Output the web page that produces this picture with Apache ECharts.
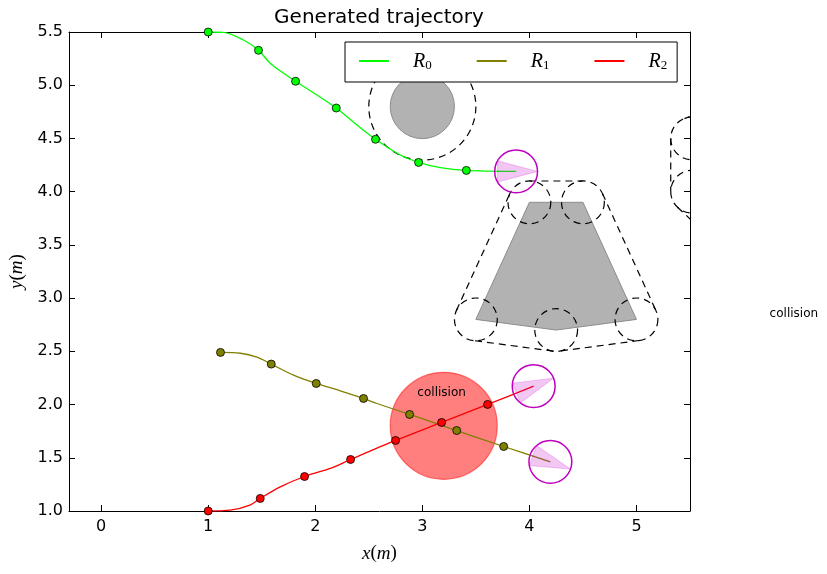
<!DOCTYPE html>
<html>
<head>
<meta charset="utf-8">
<script src="https://cdn.jsdelivr.net/npm/echarts@6/dist/echarts.min.js"></script>
<style>
html, body { margin: 0; padding: 0; background: #fff; }
#main { width: 827px; height: 574px; }
</style>
</head>
<body>
<div id="main"></div>
<script>
// trajectories (dense path) and the sampled points on them
const r0LineX = [1.0, 1.143, 1.33, 1.47, 1.579, 1.704, 1.816, 2.016, 2.196, 2.39, 2.563, 2.794, 2.965, 3.168, 3.411, 3.876]
const r0LineY = [5.5, 5.497, 5.425, 5.328, 5.206, 5.112, 5.037, 4.908, 4.786, 4.626, 4.492, 4.344, 4.275, 4.225, 4.20, 4.19]
const r0MarkX = [1.0, 1.47, 1.816, 2.196, 2.563, 2.965, 3.411]
const r0MarkY = [5.5, 5.328, 5.037, 4.786, 4.492, 4.275, 4.20]

const r1LineX = [1.115, 1.30, 1.455, 1.589, 1.797, 2.009, 2.234, 2.451, 2.577, 2.881, 3.321, 3.76, 4.196]
const r1LineY = [2.49, 2.482, 2.445, 2.38, 2.276, 2.198, 2.129, 2.057, 2.01, 1.907, 1.756, 1.606, 1.462]
const r1MarkX = [1.115, 1.589, 2.009, 2.451, 2.881, 3.321, 3.76]
const r1MarkY = [2.49, 2.38, 2.198, 2.057, 1.907, 1.756, 1.606]

const r2LineX = [1.0, 1.206, 1.39, 1.486, 1.673, 1.90, 2.14, 2.33, 2.75, 3.18, 3.61, 4.04]
const r2LineY = [1.0, 1.008, 1.055, 1.118, 1.227, 1.324, 1.40, 1.484, 1.663, 1.832, 2.001, 2.173]
const r2MarkX = [1.0, 1.486, 1.90, 2.33, 2.75, 3.18, 3.61]
const r2MarkY = [1.0, 1.118, 1.324, 1.484, 1.663, 1.832, 2.001]

// robots at the end of each path: position, heading (deg)
const robotX = [3.876, 4.196, 4.04]
const robotY = [4.19, 1.462, 2.173]
const robotHeading = [0, -20, 22]
const robotRadius = 0.2

// obstacles
const inflate = 0.2
const circObsX = [3.0]
const circObsY = [4.8]
const circObsR = [0.3]
const polyObsX = [[4.0, 4.5, 5.0, 4.25, 3.5], [5.52, 5.52, 6.0, 6.3]]
const polyObsY = [[3.9, 3.9, 2.8, 2.7, 2.8], [4.5, 4.0, 3.55, 4.8]]

// collision zone and labels
const collX = [3.2]
const collY = [1.8]
const collR = [0.5]
const collTextX = [3.18, 6.47]
const collTextY = [2.11, 2.85]

const names = ['R0', 'R1', 'R2']
const colors = ['#00ff00', '#808000', '#ff0000']
const lineXs = [r0LineX, r1LineX, r2LineX]
const lineYs = [r0LineY, r1LineY, r2LineY]
const markXs = [r0MarkX, r1MarkX, r2MarkX]
const markYs = [r0MarkY, r1MarkY, r2MarkY]

const dash = { stroke: '#000', fill: 'none', lineWidth: 1.2, lineDash: [7, 5] }

const renderPolyObstacle = (params, api) => {
  const px = polyObsX[params.dataIndex]
  const py = polyObsY[params.dataIndex]
  const n = px.length
  const pts = px.map((x, i) => api.coord([x, py[i]]))
  const rPx = api.size([inflate, 0])[0]
  const cx = px.reduce((a, b) => a + b, 0) / n
  const cy = py.reduce((a, b) => a + b, 0) / n
  const children = [{
    type: 'polygon', shape: { points: pts },
    style: { fill: '#b2b2b2', stroke: '#8c8c8c', lineWidth: 1 },
  }]
  for (let i = 0; i < n; i++) {
    children.push({ type: 'circle', shape: { cx: pts[i][0], cy: pts[i][1], r: rPx }, style: dash })
    const j = (i + 1) % n
    const dx = px[j] - px[i]
    const dy = py[j] - py[i]
    const len = Math.hypot(dx, dy)
    let nx = dy / len
    let ny = -dx / len
    if (nx * ((px[i] + px[j]) / 2 - cx) + ny * ((py[i] + py[j]) / 2 - cy) < 0) {
      nx = -nx
      ny = -ny
    }
    const a = api.coord([px[i] + nx * inflate, py[i] + ny * inflate])
    const b = api.coord([px[j] + nx * inflate, py[j] + ny * inflate])
    children.push({ type: 'line', shape: { x1: a[0], y1: a[1], x2: b[0], y2: b[1] }, style: dash })
  }
  return { type: 'group', children }
}

const renderCircObstacle = (params, api) => {
  const i = params.dataIndex
  const c = api.coord([circObsX[i], circObsY[i]])
  return {
    type: 'group',
    children: [
      { type: 'circle', shape: { cx: c[0], cy: c[1], r: api.size([circObsR[i], 0])[0] },
        style: { fill: '#b2b2b2', stroke: '#8c8c8c', lineWidth: 1 } },
      { type: 'circle', shape: { cx: c[0], cy: c[1], r: api.size([circObsR[i] + inflate, 0])[0] }, style: dash },
    ],
  }
}

const renderRobot = (params, api) => {
  const i = params.dataIndex
  const h = robotHeading[i] * Math.PI / 180
  const pt = (a) => api.coord([robotX[i] + robotRadius * Math.cos(a), robotY[i] + robotRadius * Math.sin(a)])
  const c = api.coord([robotX[i], robotY[i]])
  const spread = 150 * Math.PI / 180
  return {
    type: 'group',
    children: [
      { type: 'polygon', shape: { points: [pt(h), pt(h + spread), pt(h - spread)] },
        style: { fill: 'rgba(200,0,200,0.22)', stroke: 'rgba(200,0,200,0.22)', lineWidth: 1 } },
      { type: 'circle', shape: { cx: c[0], cy: c[1], r: api.size([robotRadius, 0])[0] },
        style: { fill: 'none', stroke: '#c000c0', lineWidth: 1.5 } },
    ],
  }
}

const renderCollision = (params, api) => {
  const i = params.dataIndex
  const c = api.coord([collX[i], collY[i]])
  return {
    type: 'circle', shape: { cx: c[0], cy: c[1], r: api.size([collR[i], 0])[0] },
    style: { fill: 'rgba(255,0,0,0.5)', stroke: 'rgba(255,0,0,0.5)', lineWidth: 1.2 },
  }
}

const renderCollText = (params, api) => {
  const i = params.dataIndex
  const c = api.coord([collTextX[i], collTextY[i]])
  return {
    type: 'text', x: c[0], y: c[1],
    style: {
      text: 'collision', fill: '#000', font: '12px "DejaVu Sans"',
      align: 'center', verticalAlign: 'middle',
    },
  }
}

const chart = echarts.init(document.getElementById('main'))

const axisLine = { show: true, onZero: false, lineStyle: { color: '#000', width: 1 } }
const axisTick = { show: true, inside: true, length: 6, lineStyle: { color: '#000', width: 1 } }
const mathName = {
  color: '#000',
  rich: {
    i: { fontFamily: 'Liberation Serif', fontStyle: 'italic', fontSize: 19, color: '#000' },
    p: { fontFamily: 'Liberation Serif', fontSize: 19, color: '#000' },
  },
}

const series = []
series.push({ type: 'custom', name: 'polyObs', coordinateSystem: 'cartesian2d', clip: true, z: 1,
  data: polyObsX.map((xs, i) => [xs[0], polyObsY[i][0]]), renderItem: renderPolyObstacle, silent: true })
series.push({ type: 'custom', name: 'circObs', coordinateSystem: 'cartesian2d', clip: true, z: 1,
  data: circObsX.map((x, i) => [x, circObsY[i]]), renderItem: renderCircObstacle, silent: true })
series.push({ type: 'custom', name: 'collision', coordinateSystem: 'cartesian2d', clip: true, z: 2,
  data: collX.map((x, i) => [x, collY[i]]), renderItem: renderCollision, silent: true })
names.forEach((n, k) => {
  series.push({
    type: 'line', name: n, z: 3, symbol: 'none', smooth: 0.3,
    lineStyle: { color: colors[k], width: 1.3 }, itemStyle: { color: colors[k] },
    data: lineXs[k].map((x, i) => [x, lineYs[k][i]]),
  })
})
names.forEach((n, k) => {
  series.push({
    type: 'scatter', name: n + ' pts', z: 4, symbolSize: 8,
    itemStyle: { color: colors[k], borderColor: '#000', borderWidth: 0.8, opacity: 1 },
    data: markXs[k].map((x, i) => [x, markYs[k][i]]),
  })
})
series.push({ type: 'custom', name: 'robots', coordinateSystem: 'cartesian2d', clip: true, z: 5,
  data: robotX.map((x, i) => [x, robotY[i]]), renderItem: renderRobot, silent: true })
series.push({ type: 'custom', name: 'collText', coordinateSystem: 'cartesian2d', clip: false, z: 6,
  data: collTextX.map((x, i) => [x, collTextY[i]]), renderItem: renderCollText, silent: true })

const option = {
  animation: false,
  backgroundColor: '#fff',
  textStyle: { fontFamily: 'DejaVu Sans' },
  title: {
    text: 'Generated trajectory', left: 379, top: 8, textAlign: 'center', padding: 0,
    textStyle: { fontFamily: 'DejaVu Sans', fontSize: 20, fontWeight: 'normal', color: '#000' },
  },
  legend: {
    data: names,
    left: 345, top: 42,
    itemWidth: 30, itemHeight: 14, itemGap: 44,
    padding: [10, 10, 10, 13],
    borderColor: '#000', borderWidth: 1, borderRadius: 0,
    backgroundColor: '#fff',
    selectedMode: false,
    itemStyle: { opacity: 0 },
    formatter: (n) => '{r|R}{s|' + n.slice(1) + '}',
    textStyle: {
      rich: {
        r: { fontFamily: 'Liberation Serif', fontStyle: 'italic', fontSize: 20, lineHeight: 22,
          verticalAlign: 'bottom', color: '#000', padding: [0, 0, 0, 19] },
        s: { fontFamily: 'Liberation Serif', fontSize: 13, lineHeight: 8, verticalAlign: 'bottom', color: '#000' },
      },
    },
  },
  grid: { left: 69, right: 137, top: 32, bottom: 63, outerBoundsMode: 'none' },
  xAxis: [
    {
      type: 'value', position: 'bottom', min: -0.3, max: 5.5, splitNumber: 6,
      axisLine, axisTick, splitLine: { show: false },
      axisLabel: {
        color: '#000', fontSize: 16, margin: 8,
        formatter: (v) => (Number.isInteger(v) ? String(v) : ''),
      },
      name: '{i|x}{p|(}{i|m}{p|)}', nameLocation: 'middle', nameGap: 33, nameTextStyle: mathName,
    },
    {
      type: 'value', position: 'top', min: -0.3, max: 5.5, splitNumber: 6,
      axisLine, axisTick, splitLine: { show: false }, axisLabel: { show: false },
    },
  ],
  yAxis: [
    {
      type: 'value', position: 'left', min: 1, max: 5.5, interval: 0.5,
      axisLine, axisTick, splitLine: { show: false },
      axisLabel: { color: '#000', fontSize: 16, margin: 6, formatter: (v) => v.toFixed(1) },
      name: '{i|y}{p|(}{i|m}{p|)}', nameLocation: 'middle', nameGap: 41, nameRotate: 90, nameTextStyle: mathName,
    },
    {
      type: 'value', position: 'right', min: 1, max: 5.5, interval: 0.5,
      axisLine, axisTick, splitLine: { show: false }, axisLabel: { show: false },
    },
  ],
  series,
}

chart.setOption(option)
</script>
</body>
</html>
